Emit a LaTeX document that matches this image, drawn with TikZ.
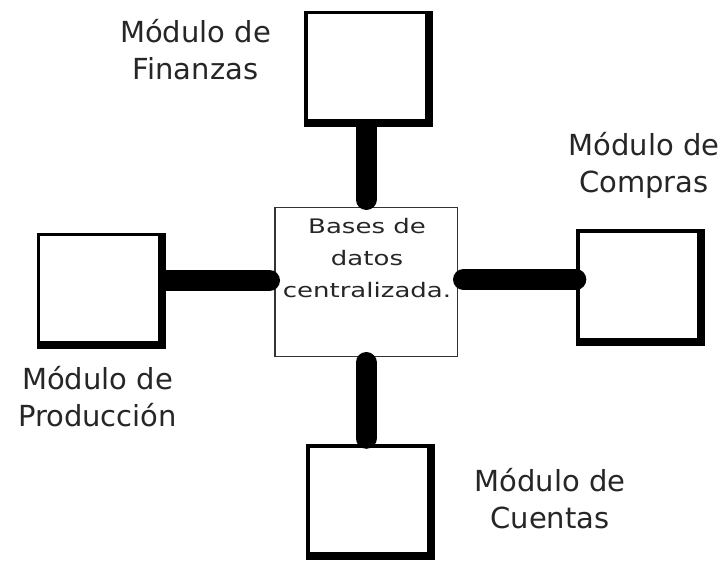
\documentclass[tikz,border=0pt]{standalone}
\usepackage{fontspec}
\setmainfont{DejaVu Sans}
\usetikzlibrary{positioning}

\tikzset{
        modbox/.style={fill=black, inner sep=0pt, minimum width=129pt, minimum height=116pt,
            path picture={\fill[white] ([xshift=3.5pt,yshift=-3.5pt]path picture bounding box.north west)
                rectangle ([xshift=-8pt,yshift=8pt]path picture bounding box.south east);}},
        link/.style={line width=21pt, line cap=round},
        modlabel/.style={font=\fontsize{29}{37}\selectfont, align=center, anchor=base, text=black!85},
}

\begin{document}
\begin{tikzpicture}[x=1pt,y=-1pt]
        \useasboundingbox (0,0) rectangle (725,561);
        \node[draw=black!80, line width=1.5pt, inner sep=0pt,
            minimum width=182.5pt, minimum height=148.5pt] (cb) at (366,282) {};
        \node[font=\fontsize{20}{31.5}\selectfont, align=center, anchor=base,
            xscale=1.3, text=black!85] (cbtext) at (367,297) {Bases de\\datos\\centralizada.};
        \node[modbox] (comp) at (640.5,287.5) {};
        \node[modbox] (cuen) at (370.5,502) {};
        \draw[link, shorten >=7.5pt] (cb.north |- 0,127) -- (cb.north);
        \draw[link, shorten >=4.5pt] ([yshift=1.5pt]cb.west -| 165,0) -- ([yshift=1.5pt]cb.west);
        \draw[link, shorten <=5.5pt] ([yshift=2.5pt]cb.east) -- ([yshift=2.5pt]cb.east -| comp.west);
        \draw[link, shorten <=5.5pt, shorten >=5.5pt] (cb.south) -- (cb.south |- cuen.north);
        \node[modbox] (fin) at (368.5,69) {};
        \node[modbox] (prod) at (101,291) {};
        \node[modlabel] (lfin) at (195.5,80) {Módulo de\\Finanzas};
        \node[modlabel] (lcomp) at (644,193) {Módulo de\\Compras};
        \node[modlabel] (lprod) at (97.5,426) {Módulo de\\Producción};
        \node[modlabel] (lcuen) at (550,528) {Módulo de\\Cuentas};
\end{tikzpicture}
\end{document}
